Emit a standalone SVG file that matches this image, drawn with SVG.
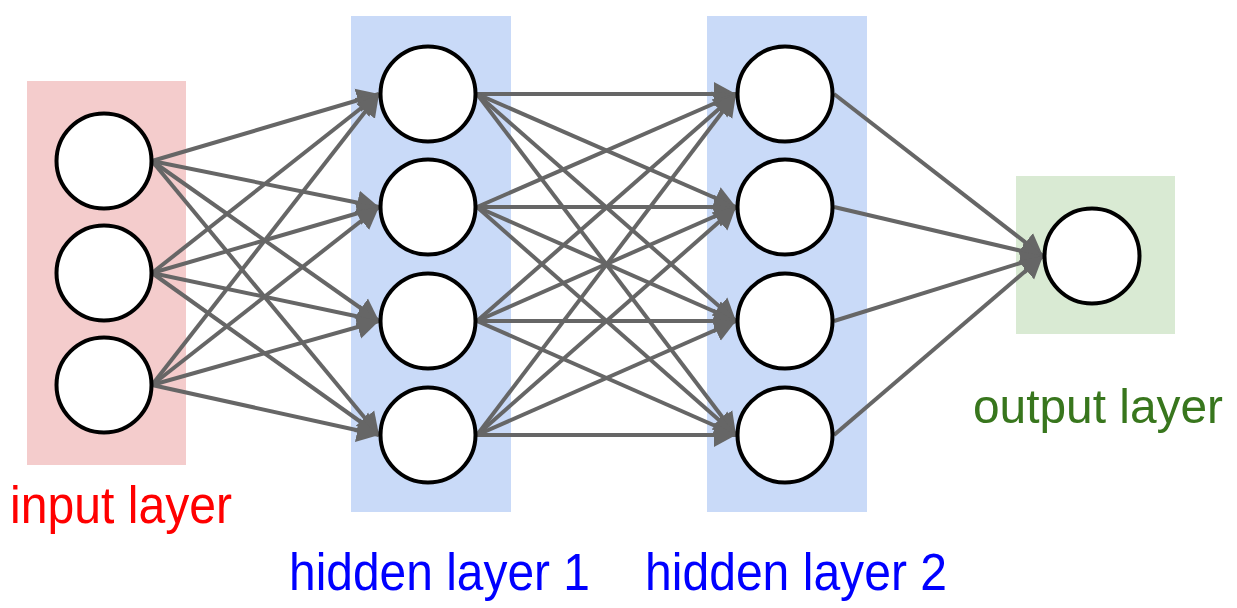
<svg xmlns="http://www.w3.org/2000/svg" width="1237" height="608" viewBox="0 0 1237 608">
<style>
.bg-in{fill:#f4cccc}
.bg-h{fill:#c9daf8}
.bg-out{fill:#d9ead3}
.node{fill:#ffffff;stroke:#000000;stroke-width:4}
.edge{stroke:#666666;stroke-width:4;fill:none;marker-end:url(#arrow)}
.lbl{font-family:"Liberation Sans",Arial,sans-serif;font-size:51px}
.lbl-out{font-family:"Liberation Sans",Arial,sans-serif;font-size:49px}
</style>
<defs>
<marker id="arrow" markerUnits="userSpaceOnUse" markerWidth="23" markerHeight="26" refX="22" refY="13" orient="auto">
<path d="M0,1 L22,13 L0,25 z" fill="#666666"/>
</marker>
</defs>
<rect width="1237" height="608" fill="#ffffff"/>
<g id="layers">
<rect class="bg-in" x="27" y="81" width="159" height="384"/>
<rect class="bg-h" x="351" y="16" width="160" height="496"/>
<rect class="bg-h" x="707" y="16" width="160" height="496"/>
<rect class="bg-out" x="1016" y="176" width="159" height="158"/>
</g>
<g id="connectors">
<line class="edge" x1="152" y1="161" x2="379" y2="94"/>
<line class="edge" x1="152" y1="161" x2="379" y2="207"/>
<line class="edge" x1="152" y1="161" x2="379" y2="321"/>
<line class="edge" x1="152" y1="161" x2="379" y2="435"/>
<line class="edge" x1="152" y1="273" x2="379" y2="94"/>
<line class="edge" x1="152" y1="273" x2="379" y2="207"/>
<line class="edge" x1="152" y1="273" x2="379" y2="321"/>
<line class="edge" x1="152" y1="273" x2="379" y2="435"/>
<line class="edge" x1="152" y1="385" x2="379" y2="94"/>
<line class="edge" x1="152" y1="385" x2="379" y2="207"/>
<line class="edge" x1="152" y1="385" x2="379" y2="321"/>
<line class="edge" x1="152" y1="385" x2="379" y2="435"/>
<line class="edge" x1="477" y1="94" x2="736" y2="94"/>
<line class="edge" x1="477" y1="94" x2="736" y2="207"/>
<line class="edge" x1="477" y1="94" x2="736" y2="321"/>
<line class="edge" x1="477" y1="94" x2="736" y2="435"/>
<line class="edge" x1="477" y1="207" x2="736" y2="94"/>
<line class="edge" x1="477" y1="207" x2="736" y2="207"/>
<line class="edge" x1="477" y1="207" x2="736" y2="321"/>
<line class="edge" x1="477" y1="207" x2="736" y2="435"/>
<line class="edge" x1="477" y1="321" x2="736" y2="94"/>
<line class="edge" x1="477" y1="321" x2="736" y2="207"/>
<line class="edge" x1="477" y1="321" x2="736" y2="321"/>
<line class="edge" x1="477" y1="321" x2="736" y2="435"/>
<line class="edge" x1="477" y1="435" x2="736" y2="94"/>
<line class="edge" x1="477" y1="435" x2="736" y2="207"/>
<line class="edge" x1="477" y1="435" x2="736" y2="321"/>
<line class="edge" x1="477" y1="435" x2="736" y2="435"/>
<line class="edge" x1="834" y1="94" x2="1043" y2="256"/>
<line class="edge" x1="834" y1="207" x2="1043" y2="256"/>
<line class="edge" x1="834" y1="321" x2="1043" y2="256"/>
<line class="edge" x1="834" y1="435" x2="1043" y2="256"/>
</g>
<g id="input-1"><circle class="node" cx="104" cy="161" r="47.5"/></g>
<g id="input-2"><circle class="node" cx="104" cy="273" r="47.5"/></g>
<g id="input-3"><circle class="node" cx="104" cy="385" r="47.5"/></g>
<g id="hidden1-1"><circle class="node" cx="428" cy="94" r="47.5"/></g>
<g id="hidden1-2"><circle class="node" cx="428" cy="207" r="47.5"/></g>
<g id="hidden1-3"><circle class="node" cx="428" cy="321" r="47.5"/></g>
<g id="hidden1-4"><circle class="node" cx="428" cy="435" r="47.5"/></g>
<g id="hidden2-1"><circle class="node" cx="785" cy="94" r="47.5"/></g>
<g id="hidden2-2"><circle class="node" cx="785" cy="207" r="47.5"/></g>
<g id="hidden2-3"><circle class="node" cx="785" cy="321" r="47.5"/></g>
<g id="hidden2-4"><circle class="node" cx="785" cy="435" r="47.5"/></g>
<g id="output-1"><circle class="node" cx="1092" cy="256" r="47.5"/></g>
<g id="labels">
<text class="lbl" x="10" y="523" fill="#ff0000" textLength="222" lengthAdjust="spacingAndGlyphs">input layer</text>
<text class="lbl" x="289" y="590" fill="#0000ff" textLength="301" lengthAdjust="spacingAndGlyphs">hidden layer 1</text>
<text class="lbl" x="645" y="590" fill="#0000ff" textLength="302" lengthAdjust="spacingAndGlyphs">hidden layer 2</text>
<text class="lbl-out" x="973" y="423" fill="#38761d" textLength="250" lengthAdjust="spacingAndGlyphs">output layer</text>
</g>
</svg>
